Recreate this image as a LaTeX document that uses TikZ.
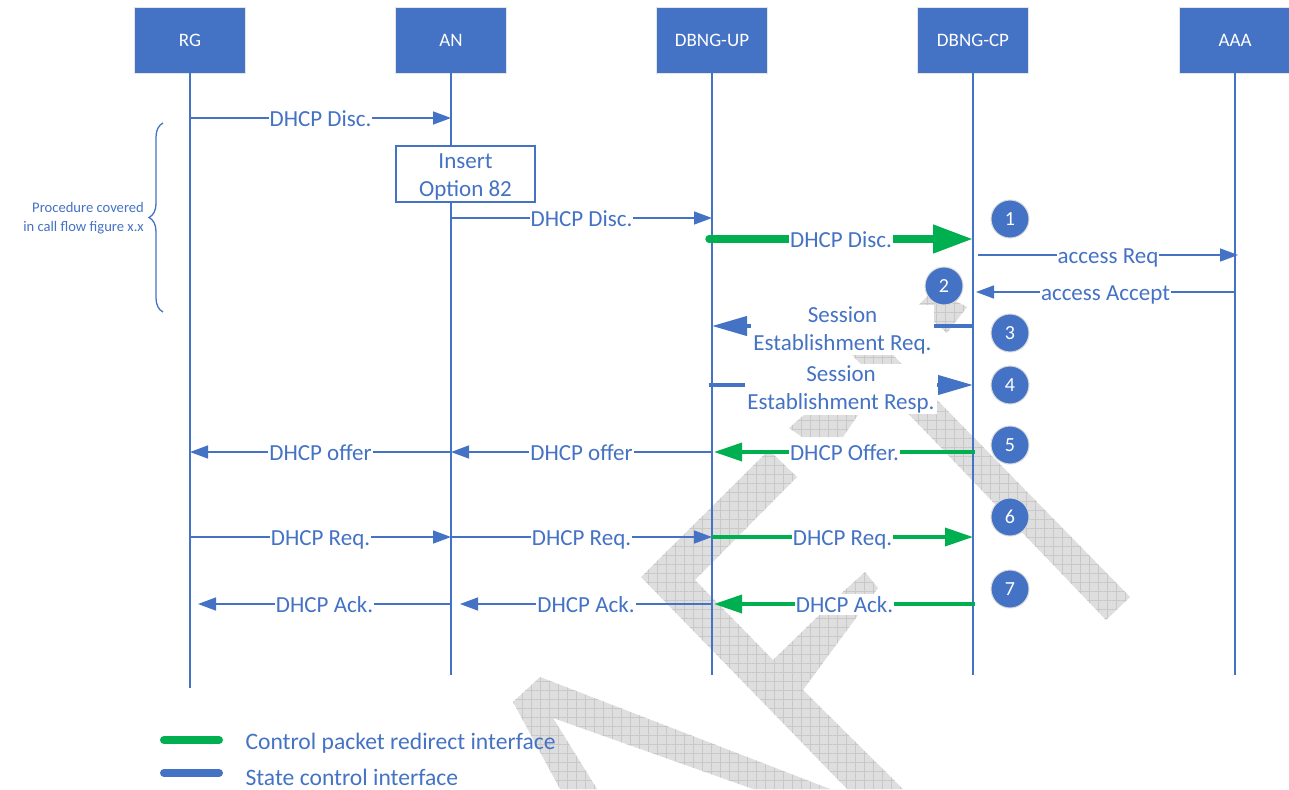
\documentclass[tikz,border=0pt]{standalone}
\usepackage{fontspec}
\setmainfont{Carlito}
\usetikzlibrary{arrows.meta,decorations.pathreplacing,patterns.meta}
\definecolor{ofblue}{HTML}{4472C4}
\definecolor{ofgreen}{HTML}{00B050}
\definecolor{wmgray}{HTML}{DEDEDE}
\definecolor{wmgrid}{HTML}{C8C8C8}

% message arrow: [style]{from}{to}{y}{label}
\newcommand\msgarrow[5][]{%
  \draw[#1] (#2 |- 0,#4) -- node[lbl]{#5} (#3 |- 0,#4);}

\begin{document}
\begin{tikzpicture}[x=1pt,y=-1pt,
  actor/.style={fill=ofblue,draw=black!10,line width=0.8pt,minimum width=111pt,
    minimum height=66pt,inner sep=0pt,text=white,font=\fontsize{19}{23}\selectfont},
  life/.style={draw=ofblue,line width=1.5pt},
  lbl/.style={fill=white,text=ofblue,inner xsep=1pt,inner ysep=1pt,
    text height=18pt,text depth=1pt,font=\fontsize{23}{28}\selectfont},
  lbltwo/.style={fill=white,text=ofblue,inner xsep=2pt,inner ysep=1pt,align=center,
    yshift=-4pt,font=\fontsize{23}{28}\selectfont},
  bmsg/.style={draw=ofblue,line width=1.5pt,-{Triangle[length=18pt,width=13pt]}},
  bthick/.style={draw=ofblue,line width=4pt,-{Triangle[length=35pt,width=19pt]}},
  gthick/.style={draw=ofgreen,line width=7.5pt,line cap=round,-{Triangle[length=40pt,width=27pt]}},
  gthin/.style={draw=ofgreen,line width=3.5pt,-{Triangle[length=28pt,width=18pt]}},
  num/.style={circle,fill=ofblue,draw=black!15,line width=1pt,minimum size=38pt,
    inner sep=0pt,text=white,font=\fontsize{20}{24}\selectfont},
  legline/.style={line width=8pt,line cap=round},
  legtxt/.style={anchor=west,text=ofblue,font=\fontsize{23.6}{28}\selectfont},
  wmark/.style={fill=wmgray,postaction={pattern={Hatch[distance=9pt,line width=0.5pt]},
    pattern color=wmgrid}}
]
\useasboundingbox (0,0) rectangle (1289,789);

% draft watermark, faint background shapes
\path[wmark] (809,310) -- (849,310) -- (1130,597) -- (1106,620) -- cycle;
\path[wmark] (917,307) -- (933,290) -- (967,307) -- (947,333) -- cycle;
\path[wmark] (789,428) -- (804,415) -- (858,415) -- (843,437) -- (802,437) -- cycle;
\path[wmark] (769,450) -- (797,477) -- (695,580) -- (773,660) -- (845,590) -- (865,572)
  -- (878,588) -- (803,690) -- (903,789) -- (847,789) -- (641,577) -- cycle;
\path[wmark] (540,677) -- (830,789) -- (753,789) -- (553,718) -- (597,789) -- (560,789)
  -- (513,702) -- cycle;

% actors
\node[actor] (rg)  at (190,40)  {RG};
\node[actor] (an)  at (451,40)  {AN};
\node[actor] (up)  at (712,40)  {DBNG-UP};
\node[actor] (cp)  at (973,40)  {DBNG-CP};
\node[actor] (aaa) at (1235,40) {AAA};

% lifeline ends
\coordinate (rgend)  at (190,688);
\coordinate (anend)  at (451,675);
\coordinate (upend)  at (712,675);
\coordinate (cpend)  at (973,675);
\coordinate (aaaend) at (1235,675);
\draw[life] (rg) -- (rgend);
\draw[life] (an) -- (anend);
\draw[life] (up) -- (upend);
\draw[life] (cp) -- (cpend);
\draw[life] (aaa) -- (aaaend);

% offset anchor points along lifelines
\coordinate (upl)  at (709,0);
\coordinate (upr)  at (714,0);
\coordinate (cpr)  at (978,0);
\coordinate (cpa)  at (976,0);
\coordinate (cpo)  at (975,0);
\coordinate (aaar) at (1238,0);
\coordinate (ana)  at (460,0);
\coordinate (rga)  at (198,0);

% option 82 insertion at AN
\node[draw=ofblue,line width=1.2pt,fill=white,minimum width=139pt,
  minimum height=56pt,inner sep=0pt] (ins) at (465.5,174) {};
\node[text=ofblue,inner sep=0pt,align=center,font=\fontsize{23}{28}\selectfont]
  (instxt) at (465.5,177) {Insert\\Option 82};

% discovery
\msgarrow[bmsg]{rg}{an}{118}{DHCP Disc.}
\msgarrow[bmsg]{an}{up}{218}{DHCP Disc.}
\msgarrow[gthick]{upl}{cp}{239}{DHCP Disc.}
\msgarrow[bmsg]{cpr}{aaar}{255}{access Req}
\msgarrow[bmsg]{aaa}{cpa}{292}{access Accept}

% session setup between CP and UP
\draw[bthick] (cp |- 0,326) -- node[lbltwo]{Session\\Establishment Req.} (up |- 0,326);
\draw[bthick] (upl |- 0,385) -- node[lbltwo]{Session\\Establishment Resp.} (cp |- 0,385);

% offer
\msgarrow[gthin]{cpo}{upr}{452}{DHCP Offer.}
\msgarrow[bmsg]{up}{an}{452}{DHCP offer}
\msgarrow[bmsg]{an}{rg}{452}{DHCP offer}

% request
\msgarrow[bmsg]{rg}{an}{537}{DHCP Req.}
\msgarrow[bmsg]{an}{up}{537}{DHCP Req.}
\msgarrow[gthin]{up}{cp}{537}{DHCP Req.}

% ack
\msgarrow[gthin]{cpo}{upr}{604}{DHCP Ack.}
\msgarrow[bmsg]{up}{ana}{604}{DHCP Ack.}
\msgarrow[bmsg]{an}{rga}{604}{DHCP Ack.}

% step numbers
\node[num] (s1) at (1010,219) {1};
\node[num] (s2) at (944,286)  {2};
\node[num] (s3) at (1010,333) {3};
\node[num] (s4) at (1010,385) {4};
\node[num] (s5) at (1010,445) {5};
\node[num] (s6) at (1010,517) {6};
\node[num] (s7) at (1010,589) {7};

% procedure brace
\coordinate (brbot) at (163,312);
\coordinate (brtop) at (163,123);
\draw[ofblue,line width=1.3pt,decorate,decoration={brace,amplitude=14pt,aspect=0.5}]
  (brbot) -- (brtop);
\node[anchor=east,align=right,text=ofblue,inner sep=0pt,
  font=\fontsize{14.6}{19}\selectfont] (proc) at (144,218)
  {Procedure covered\\in call flow figure x.x};

% legend
\coordinate (lga) at (164,740);
\coordinate (lgb) at (219,740);
\coordinate (lgc) at (164,773);
\coordinate (lgd) at (219,773);
\draw[legline,ofgreen] (lga) -- (lgb);
\draw[legline,ofblue] (lgc) -- (lgd);
\node[legtxt] (leg1) at (242,743) {Control packet redirect interface};
\node[legtxt] (leg2) at (242,777) {State control interface};
\end{tikzpicture}
\end{document}
